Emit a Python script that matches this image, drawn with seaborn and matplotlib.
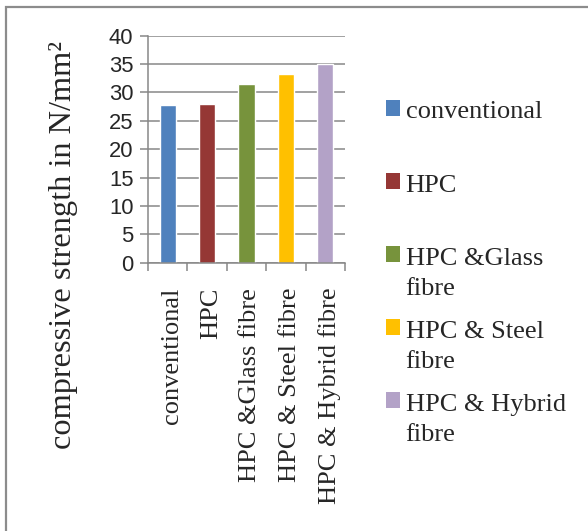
import matplotlib
matplotlib.use("Agg")
import matplotlib.pyplot as plt
import matplotlib.transforms as mtransforms
import seaborn as sns
from matplotlib.patches import Rectangle
from matplotlib.legend_handler import HandlerPatch

# data
categories = ["conventional", "HPC", "HPC &Glass fibre", "HPC & Steel fibre", "HPC & Hybrid fibre"]
strength = [27.7, 27.9, 31.4, 33.3, 35.0]
legend_labels = ["conventional", "HPC", "HPC &Glass\nfibre", "HPC & Steel\nfibre", "HPC & Hybrid\nfibre"]
colors = ["#4F81BD", "#953735", "#77933C", "#FFC000", "#B3A2C7"]
y_ticks = [0, 5, 10, 15, 20, 25, 30, 35, 40]

sns.set_style("white")
serif = "Liberation Serif"
sans = "Liberation Sans"
grid_col = "#878787"

fig = plt.figure(figsize=(5.88, 5.31), dpi=100)
ax = fig.add_axes([0.2517, 0.5053, 0.3350, 0.4275])

sns.barplot(x=categories, y=strength, hue=categories, palette=colors,
            width=0.41, dodge=False, legend=False, saturation=1, ax=ax)

ax.set_ylim(0, 40)
ax.set_xlim(-0.5, 4.5)
ax.set_yticks(y_ticks)
ax.set_yticklabels([str(t) for t in y_ticks], fontfamily=sans, fontsize=15.8)
ax.yaxis.grid(True, color=grid_col, linewidth=1.1)
ax.set_axisbelow(True)
ax.tick_params(axis="y", left=True, length=6, width=1.1, color=grid_col, pad=4.5)

# category labels at bar centres, tick marks on category boundaries
ax.set_xticks(range(len(categories)))
ax.set_xticklabels(categories, rotation=90, fontfamily=serif, fontsize=19, va="top")
ax.tick_params(axis="x", which="major", length=0, pad=18)
ax.set_xticks([i - 0.5 for i in range(len(categories) + 1)], minor=True)
ax.tick_params(axis="x", which="minor", bottom=True, length=5.5, width=1.1, color=grid_col)
shift = mtransforms.ScaledTranslation(4 / 100, 0, fig.dpi_scale_trans)
for lab in ax.get_xticklabels():
    lab.set_transform(lab.get_transform() + shift)

for side in ["top", "right"]:
    ax.spines[side].set_visible(False)
for side in ["left", "bottom"]:
    ax.spines[side].set_color(grid_col)
    ax.spines[side].set_linewidth(1.1)

ax.set_xlabel("")
ax.set_ylabel("compressive strength in N/mm²", fontfamily=serif, fontsize=23.3)
ax.yaxis.set_label_coords(-0.355, 0.08)


def marker_up(legend, orig_handle, xdescent, ydescent, width, height, fontsize):
    # put the square next to the first line of the label, as Excel does
    return Rectangle((-xdescent, -ydescent + 0.72 * fontsize), width, height)


handles = [Rectangle((0, 0), 1, 1, facecolor=c, edgecolor="none") for c in colors]
labels = [l if "\n" in l else l + "\n " for l in legend_labels]
leg = fig.legend(handles, labels, loc="upper left", bbox_to_anchor=(0.657, 0.809),
                 frameon=False, prop={"family": serif, "size": 19},
                 handlelength=0.53, handleheight=0.53, handletextpad=0.2,
                 labelspacing=0.78, borderpad=0, borderaxespad=0,
                 handler_map={Rectangle: HandlerPatch(patch_func=marker_up)})
for t in leg.get_texts():
    t.set_linespacing(1.5)

# chart area border, clipped by the picture on the right and bottom
fig.add_artist(Rectangle((0.0102, -0.2), 1.5, 0.9868 + 0.2, transform=fig.transFigure,
                         facecolor="none", edgecolor="#8C8C8C", linewidth=1.6, clip_on=False))

fig.savefig("out.png", dpi=100)
